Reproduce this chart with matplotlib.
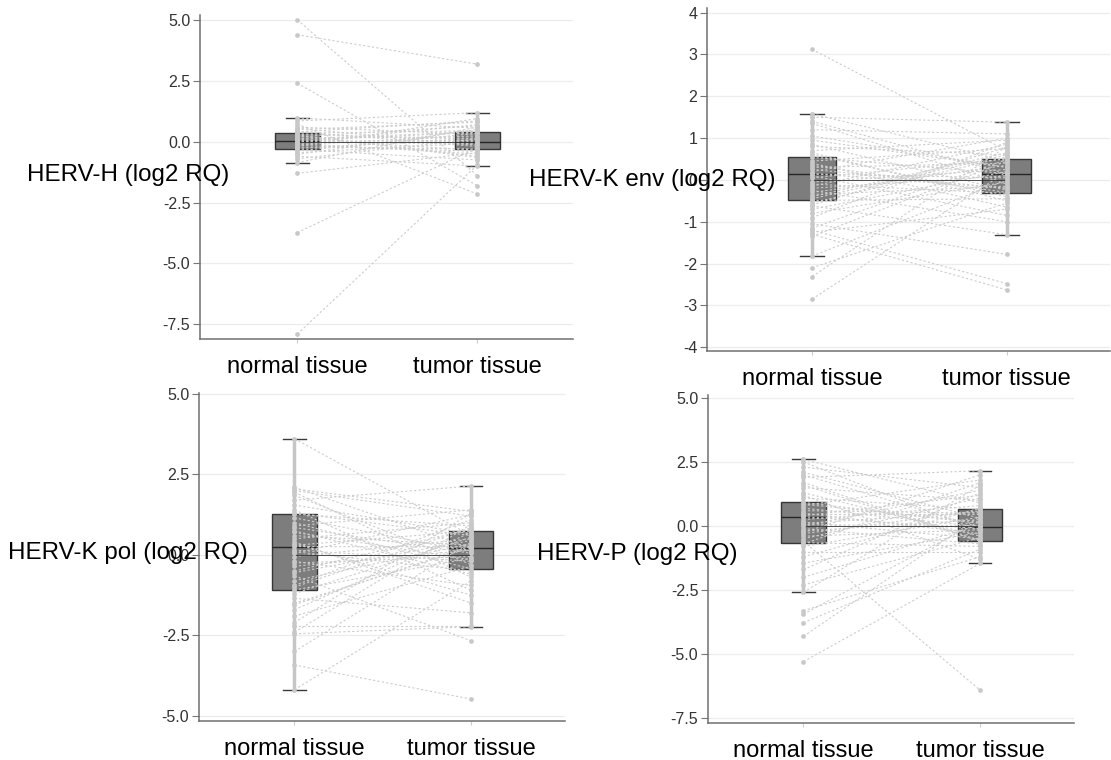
"""
Paired normal / tumor HERV expression, four panels.
"""
import numpy as np
import matplotlib
matplotlib.use('Agg')
import matplotlib.pyplot as plt

plt.rcParams['font.family'] = ['Liberation Sans', 'DejaVu Sans']

categories = ['normal tissue', 'tumor tissue']

# HERV-H
normal_h = [5.0, 4.39, 2.40, -1.30, -3.73, -7.90, 0.98, 0.85, 0.72, 0.60,
            0.50, 0.42, 0.35, 0.30, 0.25, 0.20, 0.15, 0.10, 0.05, 0.02,
            0.0, -0.03, -0.08, -0.12, -0.18, -0.22, -0.28, -0.32, -0.38, -0.45,
            -0.52, -0.60, -0.70, -0.86, 0.55, 0.12, -0.15, 0.40, -0.05, 0.28]
tumor_h = [-1.40, 3.18, -1.81, -0.45, -0.25, -0.95, 0.55, 1.19, -2.15, 0.30,
           0.80, -0.20, 0.45, 0.10, -0.60, 0.65, 0.20, -0.35, 0.38, 0.05,
           -0.10, 0.70, -0.50, 0.25, 0.95, -0.30, 0.15, -0.75, 0.35, -0.05,
           0.50, -1.00, 0.12, 0.60, -0.15, 0.40, -0.40, 0.85, 0.00, -0.65]
# whislo, q1, med, q3, whishi
box_normal_h = [-0.86, -0.30, 0.02, 0.35, 0.98]
box_tumor_h = [-1.00, -0.32, 0.00, 0.40, 1.19]

# HERV-K env
normal_env = [3.12, -2.10, -2.31, -2.85, 1.58, 1.50, 1.35, 1.20, 1.05, 0.85,
              0.80, 0.70, 0.60, 0.54, 0.45, 0.40, 0.30, 0.25, 0.20, 0.14,
              0.10, 0.05, -0.05, -0.10, -0.15, -0.20, -0.25, -0.30, -0.35, -0.40,
              -0.49, -0.55, -0.62, -0.70, -0.80, -0.90, -1.05, -1.20, -1.30, -1.35,
              -1.82, -1.25, 0.95, 0.35, -0.45, 1.40, 0.65, -0.60, 0.15, -1.15]
tumor_env = [0.70, -0.55, 0.80, 0.20, 0.45, 1.38, -0.10, 1.10, 0.30, -0.25,
             0.60, 0.95, -0.40, 0.15, 0.75, -0.65, 0.40, -0.20, 1.00, 0.05,
             -0.85, 0.50, 0.25, -0.32, 0.85, 0.10, -1.00, 0.35, -0.15, 0.65,
             -0.45, 0.55, -1.31, 0.20, -0.05, 0.90, -1.78, -2.48, -2.63, 0.45,
             0.00, -0.70, 0.30, -0.30, 0.60, 0.15, -0.50, 0.78, -0.20, 0.49]
box_normal_env = [-1.82, -0.49, 0.14, 0.54, 1.58]
box_tumor_env = [-1.31, -0.32, 0.14, 0.49, 1.38]

# HERV-K pol
normal_pol = [3.61, -3.42, -4.19, -3.00, -2.45, -2.40, 2.10, 2.00, 1.85, 1.70,
              1.55, 1.40, 1.27, 1.15, 1.00, 0.90, 0.75, 0.60, 0.50, 0.40,
              0.30, 0.26, 0.15, 0.05, -0.05, -0.20, -0.35, -0.50, -0.65, -0.80,
              -0.95, -1.09, -1.20, -1.35, -1.50, -1.70, -1.90, -2.10, 0.85, 1.95,
              -0.55, 0.35, -1.00, 0.70, 2.05, -1.55, 0.10, 1.30, -0.25, -2.20]
tumor_pol = [0.60, -4.48, -0.80, 0.40, -2.23, 0.95, 0.20, 1.20, -0.30, 2.14,
             0.65, -1.10, 0.90, 0.10, -0.44, 1.40, -0.60, 0.30, 1.00, -1.50,
             0.74, 0.25, -0.20, 1.25, 0.50, -0.95, 0.15, 0.80, -2.67, 0.35,
             1.10, -0.10, 0.55, -1.80, 0.23, 0.70, -0.35, 1.30, 0.05, -0.70,
             0.45, -1.25, 0.85, -0.15, 1.35, 0.28, -0.50, 0.60, -0.05, -2.20]
box_normal_pol = [-4.19, -1.09, 0.26, 1.27, 3.61]
box_tumor_pol = [-2.23, -0.44, 0.23, 0.74, 2.14]

# HERV-P
normal_p = [-3.31, -3.44, -3.78, -4.31, -5.30, -0.60, 2.60, 2.50, 2.30, 2.10,
            1.90, 1.70, 1.50, 1.30, 1.10, 0.92, 0.80, 0.70, 0.60, 0.50,
            0.40, 0.36, 0.25, 0.15, 0.05, 0.00, -0.10, -0.20, -0.30, -0.40,
            -0.50, -0.65, -0.80, -1.00, -1.20, -1.45, -1.70, -2.00, -2.30, -2.59,
            1.20, 0.45, -0.25, 2.00, 0.85, -0.70, 1.60, 0.10]
tumor_p = [-1.20, 0.20, -0.90, 0.40, -1.46, -6.42, 0.90, -0.20, 1.50, 0.30,
           2.16, -0.57, 1.00, -0.40, 0.65, 0.10, 1.80, -0.03, 0.50, -0.30,
           1.20, -0.10, 0.80, -0.50, 0.00, 1.40, -0.70, 0.25, 0.60, -0.15,
           1.10, -0.80, 0.35, -1.00, 0.70, -0.25, 1.30, 0.05, -0.45, 1.60,
           -1.30, 0.45, 2.00, -0.05, 0.15, 1.70, -0.60, 0.55]
box_normal_p = [-2.59, -0.65, 0.36, 0.92, 2.60]
box_tumor_p = [-1.46, -0.57, -0.03, 0.65, 2.16]

labels = ['HERV-H (log2 RQ)', 'HERV-K env (log2 RQ)',
          'HERV-K pol (log2 RQ)', 'HERV-P (log2 RQ)']
ticks_h = [-7.5, -5.0, -2.5, 0.0, 2.5, 5.0]
ticks_env = [-4, -3, -2, -1, 0, 1, 2, 3, 4]
ticks_pol = [-5.0, -2.5, 0.0, 2.5, 5.0]
ticks_p = [-7.5, -5.0, -2.5, 0.0, 2.5, 5.0]

W, H = 1111, 760


def to_stats(s):
    return dict(whislo=s[0], q1=s[1], med=s[2], q3=s[3], whishi=s[4], fliers=[])


def draw_panel(ax, normal, tumor, box_n, box_t, ticks, fmt, ylim):
    ax.bxp([to_stats(box_n), to_stats(box_t)], positions=[0, 1], widths=0.25,
           patch_artist=True, showfliers=False,
           boxprops=dict(facecolor='#7d7d7d', edgecolor='#363636', linewidth=1),
           medianprops=dict(color='#262626', linewidth=1),
           whiskerprops=dict(color='#c6c6c6', linewidth=2.5),
           capprops=dict(color='#3a3a3a', linewidth=1),
           zorder=2)
    for a, b in zip(normal, tumor):
        ax.plot([0, 1], [a, b], linestyle=(0, (2, 2)), color='#cccccc',
                linewidth=0.8, zorder=3)
    ax.plot([0, 1], [0, 0], color='#333333', linewidth=0.6, zorder=3.5)
    ax.plot(np.zeros(len(normal)), normal, 'o', ms=3.4, color='#c8c8c8',
            mew=0, zorder=4)
    ax.plot(np.ones(len(tumor)), tumor, 'o', ms=3.4, color='#c8c8c8',
            mew=0, zorder=4)

    ax.set_xlim(-0.54, 1.53)
    ax.set_ylim(*ylim)
    ax.set_xticks([0, 1])
    ax.set_xticklabels(categories, fontsize=17, color='black')
    ax.set_yticks(ticks)
    ax.set_yticklabels([fmt.format(t) for t in ticks], fontsize=11.5,
                       color='#333333')
    ax.tick_params(axis='x', length=3, color='#cccccc', pad=9)
    ax.tick_params(axis='y', length=5, color='#777777', pad=2)
    ax.yaxis.grid(True, color='#ececec', linewidth=0.9)
    ax.set_axisbelow(True)
    for side in ['top', 'right']:
        ax.spines[side].set_visible(False)
    for side in ['left', 'bottom']:
        ax.spines[side].set_color('#707070')
        ax.spines[side].set_linewidth(1.1)


fig = plt.figure(figsize=(W / 100, H / 100), dpi=100)

# axes boxes in pixels: left, top, right, bottom
boxes = [(200, 15, 573, 339), (707, 8, 1110, 351),
         (199, 393, 565, 721), (708, 395, 1074, 723)]
axes = []
for l, t, r, b in boxes:
    axes.append(fig.add_axes([l / W, 1 - b / H, (r - l) / W, (b - t) / H]))

draw_panel(axes[0], normal_h, tumor_h, box_normal_h, box_tumor_h,
           ticks_h, '{:.1f}', (-8.1, 5.2))
draw_panel(axes[1], normal_env, tumor_env, box_normal_env, box_tumor_env,
           ticks_env, '{:d}', (-4.09, 4.11))
draw_panel(axes[2], normal_pol, tumor_pol, box_normal_pol, box_tumor_pol,
           ticks_pol, '{:.1f}', (-5.16, 5.03))
draw_panel(axes[3], normal_p, tumor_p, box_normal_p, box_tumor_p,
           ticks_p, '{:.1f}', (-7.7, 5.12))

# y labels sit horizontally, overlapping the axis as in the original
label_pos = [(27, 175), (529, 180), (8, 553), (537, 554)]
for text, (x, y) in zip(labels, label_pos):
    fig.text(x / W, 1 - y / H, text, fontsize=17.4, ha='left', va='center')

fig.savefig('out.png', dpi=100)
